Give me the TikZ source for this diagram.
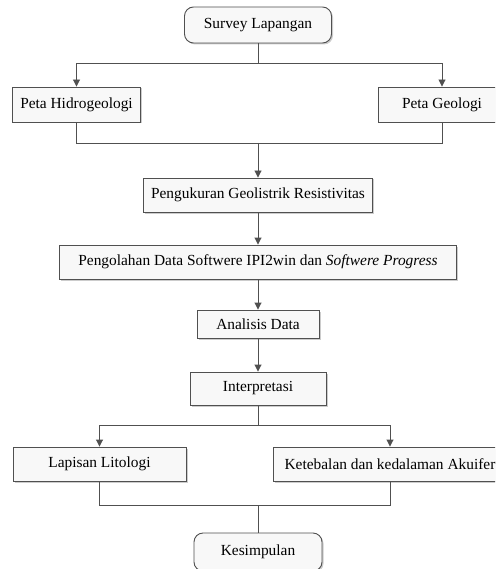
\documentclass[tikz,border=0pt]{standalone}
\usepackage{fontspec}
\setmainfont{Liberation Serif}
\usepackage{tikz}
\usetikzlibrary{arrows.meta,shadows}
\definecolor{linecolor}{HTML}{505050}
\definecolor{boxfill}{HTML}{F8F8F8}
\tikzset{
  box/.style={draw=linecolor, line width=0.9pt, rectangle, fill=boxfill, minimum height=34pt, inner sep=2pt,
    font=\fontsize{15.4pt}{18pt}\selectfont,
    drop shadow={shadow xshift=1.5pt, shadow yshift=-1.5pt, fill=black, opacity=0.2}},
  roundbox/.style={box, rounded corners=9pt},
  conn/.style={draw=linecolor, line width=0.9pt},
  arr/.style={conn, -{Triangle[width=7pt,length=7pt]}},
}

\begin{document}
\begin{tikzpicture}[x=1pt,y=-1pt]%
\useasboundingbox (0,0) rectangle (495,569);%
\clip (0,0) rectangle (495,569);%
\node[roundbox, minimum width=147pt, minimum height=36pt] (survey) at (258,25) {Survey Lapangan};%
\node[box, minimum width=128pt, minimum height=35pt] (hidro) at (76.5,104.5) {Peta Hidrogeologi};%
\node[box, minimum width=128pt, minimum height=35pt] (geologi) at (442,104.5) {Peta Geologi};%
\node[box, minimum width=229pt] (ukur) at (258,195) {Pengukuran Geolistrik Resistivitas};%
\node[box, minimum width=397pt] (olah) at (258,262) {Pengolahan Data Softwere IPI2win dan \textit{Softwere Progress}};%
\node[box, minimum width=122pt, minimum height=28pt] (analisis) at (258,324) {Analisis Data};%
\node[box, minimum width=136pt, minimum height=33pt] (interp) at (258,388.5) {Interpretasi};%
\node[box, minimum width=173pt] (lapisan) at (99.5,464) {Lapisan Litologi};%
\node[box, minimum width=234pt] (akuifer) at (390,464) {Ketebalan dan kedalaman Akuifer};%
\node[roundbox, minimum width=128pt, minimum height=38pt] (simpul) at (258,552) {Kesimpulan};%
% junctions
\coordinate (split1) at (258,63);%
\coordinate (merge1) at (258,143);%
\coordinate (split2) at (258,425);%
\coordinate (merge2) at (258,505);%
% connectors
\draw[conn] (survey) -- (split1);%
\draw[arr] (split1) -| (hidro);%
\draw[arr] (split1) -| (geologi);%
\draw[conn] (hidro) |- (merge1);%
\draw[conn] (geologi) |- (merge1);%
\draw[arr] (merge1) -- (ukur);%
\draw[arr] (ukur) -- (olah);%
\draw[arr] (olah) -- (analisis);%
\draw[arr] (analisis) -- (interp);%
\draw[conn] (interp) -- (split2);%
\draw[arr] (split2) -| (lapisan);%
\draw[arr] (split2) -| (akuifer);%
\draw[conn] (lapisan) |- (merge2);%
\draw[conn] (akuifer) |- (merge2);%
\draw[conn] (merge2) -- (simpul);%
\end{tikzpicture}
\end{document}
